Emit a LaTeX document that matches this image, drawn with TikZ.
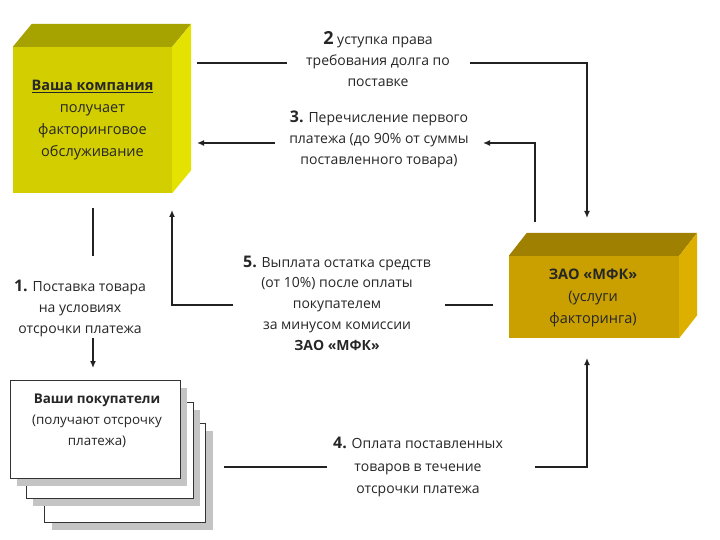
\documentclass[tikz,border=0pt]{standalone}
\usepackage{fontspec}
\setmainfont{Open Sans}
\usetikzlibrary{calc,arrows.meta}
\definecolor{yfront}{HTML}{D2CE00}
\definecolor{ytop}{HTML}{A6A200}
\definecolor{yside}{HTML}{E4E200}
\definecolor{gfront}{HTML}{C9A000}
\definecolor{gtop}{HTML}{A08000}
\definecolor{gside}{HTML}{DDB000}
\definecolor{lineclr}{HTML}{222222}
\definecolor{shadowclr}{HTML}{C4C4C4}
\begin{document}
\begin{tikzpicture}[x=1pt,y=-1pt,
  lbl/.style={align=center,font=\fontsize{14}{21}\selectfont,inner sep=0pt,text=black!85},
  conn/.style={line width=2.2pt,draw=lineclr},
  arr/.style={conn,-{Latex[length=7pt,width=6pt]}},
  face/.style={inner sep=0pt,draw=none},
  sheet/.style={draw=black!80,line width=1pt,fill=white,inner sep=0pt},
  sheetshadow/.style={fill=shadowclr,draw=none}
]
\useasboundingbox (0,0) rectangle (720,540);

% ---- Box 1: Ваша компания ----
\node[face,fill=yfront,minimum width=159pt,minimum height=146pt] (comp) at (92.5,120) {};
\fill[ytop] (comp.north west) -- ($(comp.north west)+(19,-23)$) -- ($(comp.north east)+(19,-23)$) -- (comp.north east) -- cycle;
\fill[yside] (comp.north east) -- ($(comp.north east)+(19,-23)$) -- ($(comp.south east)+(19,-23)$) -- (comp.south east) -- cycle;
\node[lbl,font=\fontsize{14.5}{22}\selectfont] (comptext) at (comp.center) {\underline{\textbf{Ваша компания}}\\получает\\факторинговое\\обслуживание};

% ---- Box 2: ЗАО МФК ----
\node[face,fill=gfront,minimum width=170pt,minimum height=82pt] (mfk) at (594,297) {};
\fill[gtop] (mfk.north west) -- ($(mfk.north west)+(18,-23)$) -- ($(mfk.north east)+(18,-23)$) -- (mfk.north east) -- cycle;
\fill[gside] (mfk.north east) -- ($(mfk.north east)+(18,-23)$) -- ($(mfk.south east)+(18,-23)$) -- (mfk.south east) -- cycle;
\node[lbl,font=\fontsize{14.5}{22}\selectfont] (mfktext) at (593,298) {\textbf{ЗАО «МФК»}\\(услуги\\факторинга)};

% ---- Sheets: Ваши покупатели ----
\fill[sheetshadow] (52,431) rectangle (213,530);
\node[sheet,minimum width=161pt,minimum height=99pt] (sh3) at (124.5,472.5) {};
\fill[sheetshadow] (33,410) rectangle (200,506);
\node[sheet,minimum width=167pt,minimum height=96pt] (sh2) at (109.5,450) {};
\fill[sheetshadow] (17,388) rectangle (187,486);
\node[sheet,minimum width=170pt,minimum height=98pt] (buy) at (95,429) {};
\node[lbl,font=\fontsize{13.4}{21}\selectfont] (buytext) at (97,421) {\textbf{Ваши покупатели}\\(получают отсрочку\\платежа)};

% ---- Labels ----
\node[lbl] (l2) at (378,59) {{\fontsize{18}{18}\selectfont\bfseries 2} уступка права\\требования долга по\\поставке};
\node[lbl] (l3) at (379,139) {{\fontsize{16}{16}\selectfont\bfseries 3.} Перечисление первого\\платежа (до 90\% от суммы\\поставленного товара)};
\node[lbl] (l1) at (80,308) {{\fontsize{16}{16}\selectfont\bfseries 1.} Поставка товара\\на условиях\\отсрочки платежа};
\node[lbl,font=\fontsize{14}{20.8}\selectfont] (l5) at (337,303) {{\fontsize{16}{16}\selectfont\bfseries 5.} Выплата остатка средств\\(от 10\%) после оплаты\\покупателем\\за минусом комиссии\\\textbf{ЗАО «МФК»}};
\node[lbl,font=\fontsize{14}{22.5}\selectfont] (l4) at (418,467) {{\fontsize{16}{16}\selectfont\bfseries 4.} Оплата поставленных\\товаров в течение\\отсрочки платежа};

% ---- Connector end points ----
\coordinate (a2s) at (197,63);  \coordinate (a2m) at (287,63);
\coordinate (a2n) at (470,63);  \coordinate (a2e) at (587,218);
\coordinate (a3s) at (535,222); \coordinate (a3m) at (483,143);
\coordinate (a3n) at (275,143); \coordinate (a3e) at (197,143);
\coordinate (a1s) at (93,208);  \coordinate (a1m) at (93,256);
\coordinate (a1n) at (93,338);  \coordinate (a1e) at (93,368);
\coordinate (a5s) at (493,305); \coordinate (a5m) at (445,305);
\coordinate (a5n) at (233,305); \coordinate (a5e) at (172,210);
\coordinate (a4s) at (224,467); \coordinate (a4m) at (327,467);
\coordinate (a4n) at (535,467); \coordinate (a4e) at (587,358);

% ---- Connectors ----
\draw[conn] (a2s) -- (a2m);
\draw[arr] (a2n) -| (a2e);
\draw[arr] (a3s) |- (a3m);
\draw[arr] (a3n) -- (a3e);
\draw[conn] (a1s) -- (a1m);
\draw[arr] (a1n) -- (a1e);
\draw[conn] (a5s) -- (a5m);
\draw[arr] (a5n) -| (a5e);
\draw[conn] (a4s) -- (a4m);
\draw[arr] (a4n) -| (a4e);
\end{tikzpicture}
\end{document}
